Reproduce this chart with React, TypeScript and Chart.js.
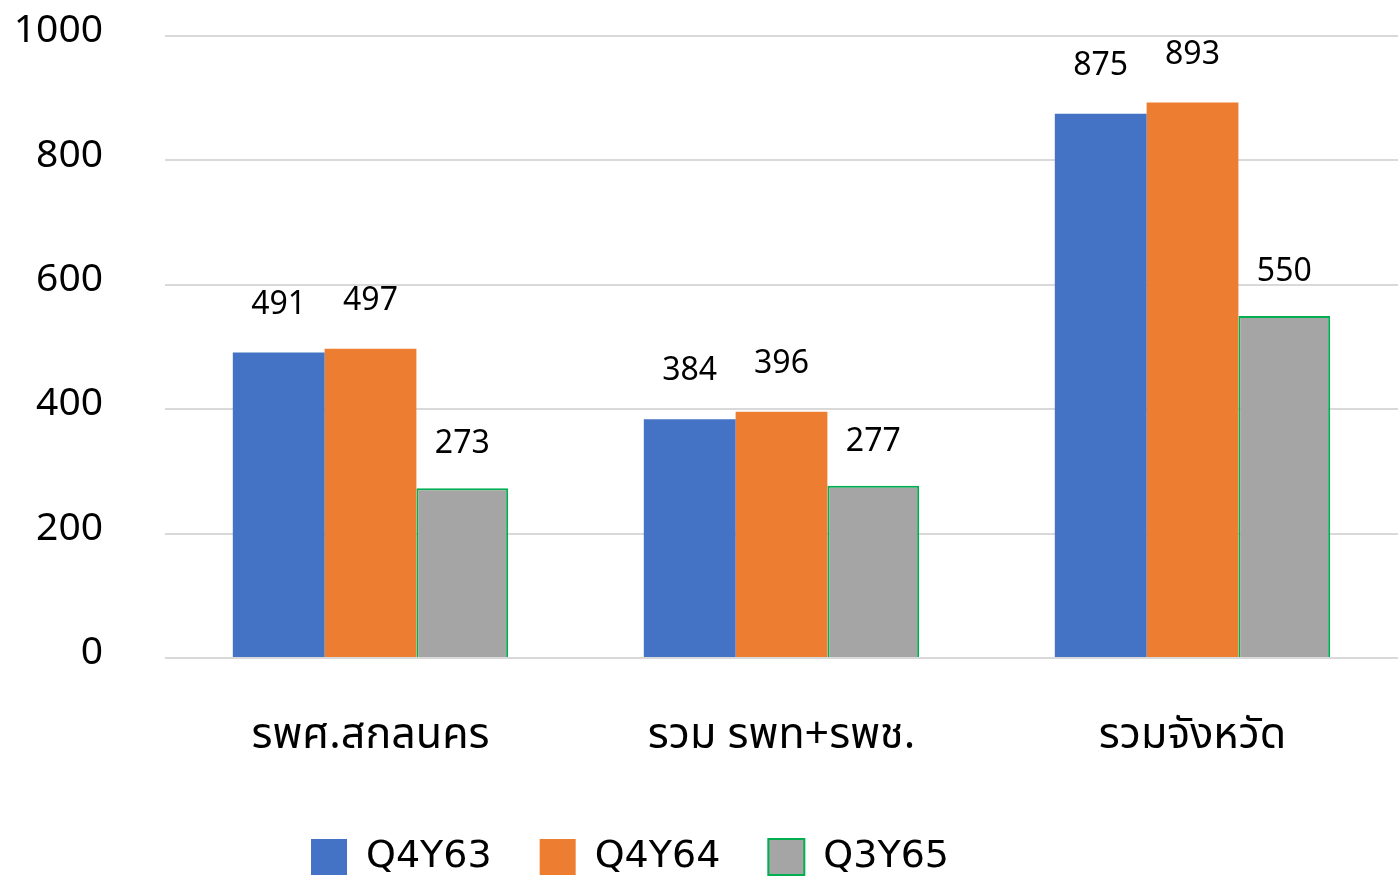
import React, { useEffect, useRef } from "react";
import { Chart, registerables } from "chart.js";

Chart.register(...registerables);

const categories = ["รพศ.สกลนคร", "รวม รพท+รพช.", "รวมจังหวัด"];
const seriesNames = ["Q4Y63", "Q4Y64", "Q3Y65"];
const q4y63 = [491, 384, 875];
const q4y64 = [497, 396, 893];
const q3y65 = [273, 277, 550];
const yTicks = [0, 200, 400, 600, 800, 1000];

const FONT = "'Noto Sans', 'Noto Sans Thai', 'Leelawadee UI', Tahoma, sans-serif";
const LEGEND_FONT = "'DejaVu Sans', 'Noto Sans', sans-serif";
const LABEL_GAP = [48, 48, 44];

const dataLabels = {
  id: "dataLabels",
  afterDatasetsDraw(chart: any) {
    const ctx = chart.ctx;
    ctx.save();
    ctx.font = `32px ${FONT}`;
    ctx.fillStyle = "#000";
    ctx.textAlign = "center";
    ctx.textBaseline = "middle";
    chart.data.datasets.forEach((ds: any, i: number) => {
      const meta = chart.getDatasetMeta(i);
      meta.data.forEach((bar: any, j: number) => {
        ctx.fillText(String(ds.data[j]), bar.x, bar.y - LABEL_GAP[i]);
      });
    });
    ctx.restore();
  },
};

const legendShift = {
  id: "legendShift",
  afterLayout(chart: any) {
    const lg = chart.legend;
    if (!lg) return;
    lg.left -= 71;
    lg.right -= 71;
    lg.top += 10;
    lg.bottom += 10;
  },
};

export default function App() {
  const ref = useRef<HTMLCanvasElement>(null);
  useEffect(() => {
    if (!ref.current) return;
    const chart = new Chart(ref.current, {
      type: "bar",
      data: {
        labels: categories,
        datasets: [
          { label: seriesNames[0], data: q4y63, backgroundColor: "#4472C4", borderWidth: 0 },
          { label: seriesNames[1], data: q4y64, backgroundColor: "#ED7D31", borderWidth: 0 },
          { label: seriesNames[2], data: q3y65, backgroundColor: "#A5A5A5", borderColor: "#00B050", borderWidth: 2 },
        ],
      },
      options: {
        animation: false,
        responsive: false,
        maintainAspectRatio: false,
        layout: { padding: { top: 36, right: -4, left: 0, bottom: 0 } },
        datasets: { bar: { barPercentage: 1, categoryPercentage: 0.67 } },
        plugins: {
          tooltip: { enabled: false },
          legend: {
            position: "bottom",
            labels: {
              boxWidth: 36,
              boxHeight: 36,
              padding: 48,
              color: "#000",
              font: { family: LEGEND_FONT, size: 38 },
            },
          },
        },
        scales: {
          x: {
            grid: { display: false },
            border: { display: false },
            afterFit: (s: any) => {
              s.height = 122;
            },
            ticks: { color: "#000", font: { family: FONT, size: 43 }, padding: 44 },
          },
          y: {
            min: 0,
            max: 1000,
            afterBuildTicks: (s: any) => {
              s.ticks = yTicks.map((v) => ({ value: v }));
            },
            afterFit: (s: any) => {
              s.width = 165;
            },
            grid: {
              color: "#D9D9D9",
              lineWidth: 2,
              drawTicks: true,
              tickLength: 56,
              tickColor: "rgba(0,0,0,0)",
            },
            border: { display: false },
            ticks: {
              color: "#000",
              font: { family: FONT, size: 39 },
              padding: 6,
              labelOffset: -5,
              callback: (v: any) => String(v),
            },
          },
        },
      },
      plugins: [dataLabels, legendShift],
    });
    return () => chart.destroy();
  }, []);
  return (
    <div style={{ position: "fixed", left: 0, top: 0, width: 1398, height: 876, background: "#fff" }}>
      <canvas ref={ref} width={1398} height={876} style={{ display: "block" }} />
    </div>
  );
}
